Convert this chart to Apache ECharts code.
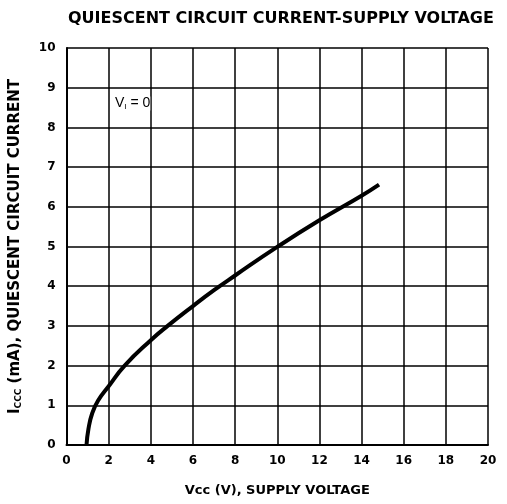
<!DOCTYPE html>
<html>
<head>
<meta charset="utf-8">
<script src="https://cdn.jsdelivr.net/npm/echarts@6/dist/echarts.min.js"></script>
<style>
* { margin: 0; padding: 0; }
body { background: #fff; }
</style>
</head>
<body>
<div id="chart" style="width: 507px;height: 504px;"></div>
<script>
// supply voltage (V) vs quiescent current (mA)
var vcc = [0.95, 1.04, 1.22, 1.5, 2, 2.76, 4, 4.8, 6, 7, 8, 10, 12, 14, 14.83]
var iccc = [0, 0.4, 0.8, 1.12, 1.48, 2.0, 2.64, 3.0, 3.5, 3.9, 4.27, 4.99, 5.66, 6.28, 6.56]

var font = 'DejaVu Sans, sans-serif'

var chart = echarts.init(document.getElementById('chart'))
chart.setOption({
    animation: false,
    title: {
        text: 'QUIESCENT CIRCUIT CURRENT-SUPPLY VOLTAGE',
        left: 63,
        top: 6,
        textStyle: { fontFamily: font, fontSize: 16, fontWeight: 'bold', color: '#000' }
    },
    grid: { left: 65, right: 19, top: 48, bottom: 59 },
    xAxis: {
        type: 'value',
        min: 0, max: 20, interval: 2,
        name: 'Vcc (V), SUPPLY VOLTAGE',
        nameLocation: 'middle',
        nameGap: 39,
        nameTextStyle: { fontFamily: font, fontSize: 13, fontWeight: 'bold', color: '#000' },
        axisLine: { lineStyle: { color: '#000', width: 2 } },
        axisTick: { show: false },
        axisLabel: { fontFamily: font, fontSize: 12, fontWeight: 'bold', color: '#000', margin: 10 },
        splitLine: { lineStyle: { color: '#000', width: 1.5 } }
    },
    yAxis: {
        type: 'value',
        min: 0, max: 10, interval: 1,
        name: 'I{sub|CCC} (mA), QUIESCENT CIRCUIT CURRENT',
        nameLocation: 'middle',
        nameGap: 43,
        nameTextStyle: {
            fontFamily: font, fontSize: 15, fontWeight: 'bold', color: '#000',
            rich: { sub: { fontFamily: font, fontSize: 9, fontWeight: 'bold', color: '#000', verticalAlign: 'bottom', padding: [7, 0, 0, 0] } }
        },
        axisLine: { show: true, lineStyle: { color: '#000', width: 2 } },
        axisTick: { show: false },
        axisLabel: { fontFamily: font, fontSize: 12, fontWeight: 'bold', color: '#000', margin: 11 },
        splitLine: { lineStyle: { color: '#000', width: 1.5 } }
    },
    series: [{
        type: 'line',
        data: vcc.map(function (v, i) { return [v, iccc[i]] }),
        smooth: 0.5,
        showSymbol: false,
        lineStyle: { color: '#000', width: 4 },
        markPoint: {
            symbolSize: 0,
            data: [{
                coord: [2.3, 8.6],
                label: {
                    show: true,
                    position: 'right',
                    distance: 0,
                    formatter: 'V{sub|I} = 0',
                    fontFamily: 'Liberation Sans, Arial, sans-serif', fontSize: 14, color: '#000',
                    backgroundColor: '#fff',
                    rich: { sub: { fontFamily: 'Liberation Sans, Arial, sans-serif', fontSize: 8, color: '#000', verticalAlign: 'bottom', padding: [5, 0, 0, 0] } }
                }
            }]
        }
    }]
})
</script>
</body>
</html>
